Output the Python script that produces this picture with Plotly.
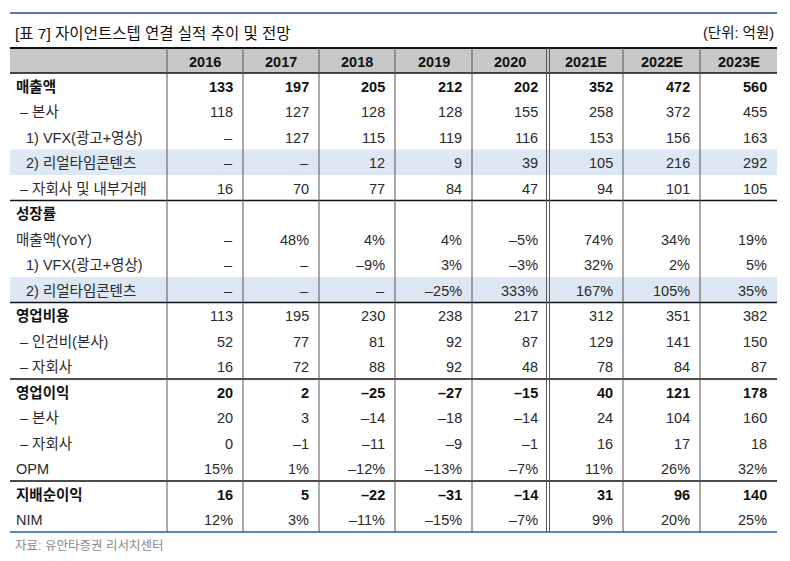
import plotly.graph_objects as go

# ---------------- data ----------------
years = ["2016", "2017", "2018", "2019", "2020", "2021E", "2022E", "2023E"]

sales = [133, 197, 205, 212, 202, 352, 472, 560]
sales_hq = [118, 127, 128, 128, 155, 258, 372, 455]
sales_vfx = [None, 127, 115, 119, 116, 153, 156, 163]
sales_rt = [None, None, 12, 9, 39, 105, 216, 292]
sales_subs = [16, 70, 77, 84, 47, 94, 101, 105]
growth_sales = [None, 48, 4, 4, -5, 74, 34, 19]
growth_vfx = [None, None, -9, 3, -3, 32, 2, 5]
growth_rt = [None, None, None, -25, 333, 167, 105, 35]
opex = [113, 195, 230, 238, 217, 312, 351, 382]
opex_labor = [52, 77, 81, 92, 87, 129, 141, 150]
opex_subs = [16, 72, 88, 92, 48, 78, 84, 87]
op_profit = [20, 2, -25, -27, -15, 40, 121, 178]
op_hq = [20, 3, -14, -18, -14, 24, 104, 160]
op_subs = [0, -1, -11, -9, -1, 16, 17, 18]
opm = [15, 1, -12, -13, -7, 11, 26, 32]
net_income = [16, 5, -22, -31, -14, 31, 96, 140]
nim = [12, 3, -11, -15, -7, 9, 20, 25]

row_labels = ["매출액", "– 본사", "1) VFX(광고+영상)", "2) 리얼타임콘텐츠", "– 자회사 및 내부거래",
              "성장률", "매출액(YoY)", "1) VFX(광고+영상)", "2) 리얼타임콘텐츠",
              "영업비용", "– 인건비(본사)", "– 자회사",
              "영업이익", "– 본사", "– 자회사", "OPM",
              "지배순이익", "NIM"]
row_values = [sales, sales_hq, sales_vfx, sales_rt, sales_subs,
              None, growth_sales, growth_vfx, growth_rt,
              opex, opex_labor, opex_subs,
              op_profit, op_hq, op_subs, opm,
              net_income, nim]
pct_rows = {6, 7, 8, 15, 17}
bold_label_rows = {0, 5, 9, 12, 16}
bold_value_rows = {0, 12, 16}
indent = {1: 18, 2: 24, 3: 24, 4: 18, 7: 24, 8: 24, 10: 18, 11: 18, 13: 18, 14: 18}
highlight_rows = [3, 8]
section_ends = [5, 9, 12, 16]

title = "[표 7] 자이언트스텝 연결 실적 추이 및 전망"
unit = "(단위: 억원)"
source = "자료: 유안타증권 리서치센터"

# ---------------- layout geometry ----------------
W, H = 790, 561
LEFT, RIGHT = 10, 777
col_edges = [167, 243, 319, 395, 472, 548, 623, 700, 777]
HEAD_TOP, HEAD_BOT = 48, 73
ROW_H = 25.5
n_rows = len(row_labels)
TABLE_BOT = HEAD_BOT + n_rows * ROW_H

FONT = "Liberation Sans Narrow, Arial Narrow, Liberation Sans, Noto Sans CJK KR, sans-serif"
TXT = "#2a2a2a"
FS = 14.5

shapes = []
annotations = []

def line(x0, y0, x1, y1, color, width):
    shapes.append(dict(type="line", xref="x", yref="y", x0=x0, y0=y0, x1=x1, y1=y1,
                       line=dict(color=color, width=width), layer="above"))

def rect(x0, y0, x1, y1, color):
    shapes.append(dict(type="rect", xref="x", yref="y", x0=x0, y0=y0, x1=x1, y1=y1,
                       fillcolor=color, line=dict(width=0), layer="below"))

def text(x, y, s, anchor="left", size=FS, color=TXT, bold=False):
    annotations.append(dict(x=x, y=y, xref="x", yref="y", text=f"<b>{s}</b>" if bold else s,
                            showarrow=False, xanchor=anchor, yanchor="middle",
                            font=dict(family=FONT, size=size, color=color)))

# backgrounds
rect(LEFT, HEAD_TOP, RIGHT, HEAD_BOT, "#c8c8c8")
for r in highlight_rows:
    rect(LEFT, HEAD_BOT + r * ROW_H, RIGHT, HEAD_BOT + (r + 1) * ROW_H, "#dde8f4")

# horizontal rules
line(LEFT, 13, RIGHT, 13, "#1f4f8f", 1.5)
line(LEFT, HEAD_TOP, RIGHT, HEAD_TOP, "#111111", 2)
line(LEFT, HEAD_BOT, RIGHT, HEAD_BOT, "#111111", 1.5)
for r in section_ends:
    yy = HEAD_BOT + r * ROW_H
    line(LEFT, yy, RIGHT, yy, "#111111", 1.5)
line(LEFT, TABLE_BOT, RIGHT, TABLE_BOT, "#1f5fa8", 1.5)

# vertical rules
for i, xe in enumerate(col_edges[:-1]):
    if i == 5:
        line(xe - 1.5, HEAD_TOP, xe - 1.5, TABLE_BOT, "#555555", 1)
        line(xe + 1.5, HEAD_TOP, xe + 1.5, TABLE_BOT, "#555555", 1)
    else:
        line(xe, HEAD_TOP, xe, TABLE_BOT, "#555555", 1)

# title, unit, source
text(13, 33, title, size=15.5, color="#111111")
text(RIGHT - 1, 33, unit, anchor="right", size=14.5, color="#111111")
text(13, 546, source, size=12.5, color="#8a8a8a")

# header
for j, yname in enumerate(years):
    cx = (col_edges[j] + col_edges[j + 1]) / 2
    text(cx, (HEAD_TOP + HEAD_BOT) / 2 + 1, yname, anchor="center", color="#111111", bold=True)

def fmt(v, pct):
    if v is None:
        return "–"
    s = f"{abs(v)}" + ("%" if pct else "")
    return ("–" + s) if v < 0 else s

# body
for r in range(n_rows):
    cy = HEAD_BOT + (r + 0.5) * ROW_H + 1
    bl = r in bold_label_rows
    text(indent.get(r, 14), cy, row_labels[r],
         color="#111111" if bl else TXT, bold=bl)
    vals = row_values[r]
    if vals is None:
        continue
    bv = r in bold_value_rows
    for j, v in enumerate(vals):
        text(col_edges[j + 1] - 8, cy, fmt(v, r in pct_rows), anchor="right",
             color="#111111" if bv else TXT, bold=bv)

fig = go.Figure()
fig.add_trace(go.Scatter(x=[0, W], y=[0, H], mode="markers", marker=dict(opacity=0),
                         hoverinfo="skip", showlegend=False))
fig.update_layout(
    width=W, height=H,
    margin=dict(l=0, r=0, t=0, b=0),
    paper_bgcolor="white", plot_bgcolor="white",
    xaxis=dict(range=[0, W], visible=False, fixedrange=True),
    yaxis=dict(range=[H, 0], visible=False, fixedrange=True),
    shapes=shapes, annotations=annotations, showlegend=False,
)
fig.write_html("out.html", config={"displayModeBar": False},
               post_script="document.body.style.margin='0';document.body.style.overflow='hidden';")
